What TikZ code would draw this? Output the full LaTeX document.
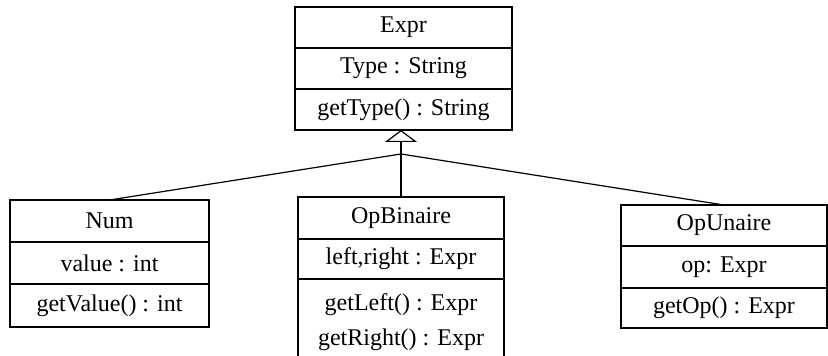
\documentclass[tikz,border=0pt]{standalone}
\usepackage{fontspec}
\setmainfont{Liberation Serif}
\usetikzlibrary{positioning,arrows.meta}

\begin{document}
\begin{tikzpicture}[x=0.75pt,y=0.75pt,yscale=-1,
  cls/.style={draw, line width=0.9pt, inner sep=0pt, outer sep=0pt, font=\fontsize{18}{21}\selectfont},
  txt/.style={inner sep=0pt, font=\fontsize{18}{21}\selectfont},
  inherit/.style={line width=0.9pt, -{Triangle[open, length=9pt, width=24pt]}},
  link/.style={line width=0.9pt}]
\useasboundingbox (0,0) rectangle (828,356);
\clip (0,0) rectangle (828,356);

%Class: Expr
\node [cls, minimum width=162.75pt, minimum height=30.75pt] (expr) at (403.5,27.5) {Expr};
\node [cls, minimum width=162.75pt, minimum height=30.75pt, below=0pt of expr] (exprAttr) {Type : String};
\node [cls, minimum width=162.75pt, minimum height=30.75pt, below=0pt of exprAttr] (exprMeth) {getType() : String};

%Class: Num
\node [cls, minimum width=149.25pt, minimum height=31.5pt] (num) at (109.5,221) {Num};
\node [cls, minimum width=149.25pt, minimum height=31.5pt, below=0pt of num] (numAttr) {value : int};
\node [cls, minimum width=149.25pt, minimum height=32.25pt, below=0pt of numAttr] (numMeth) {getValue() : int};

%Class: OpBinaire
\node [cls, minimum width=154.5pt, minimum height=31.5pt] (opb) at (401,218) {OpBinaire};
\node [cls, minimum width=154.5pt, minimum height=30pt, below=0pt of opb] (opbAttr) {left,right : Expr};
\node [cls, minimum width=154.5pt, minimum height=75pt, below=0pt of opbAttr] (opbMeth) {};
% Text Node
\node [txt] (opbLeft) at (401,305) {getLeft() : Expr};
% Text Node
\node [txt] (opbRight) at (401,340) {getRight() : Expr};

%Class: OpUnaire
\node [cls, minimum width=154.5pt, minimum height=30.75pt] (opu) at (724,225.5) {OpUnaire};
\node [cls, minimum width=154.5pt, minimum height=31.5pt, below=0pt of opu] (opuAttr) {op: Expr};
\node [cls, minimum width=154.5pt, minimum height=30pt, below=0pt of opuAttr] (opuMeth) {getOp() : Expr};

%Inheritance
\coordinate (tip) at (401,130);
\coordinate (branch) at (401,154);
\draw [inherit] (opb.north) -- (tip);
\draw [link] (num.north) -- (branch);
\draw [link] (opu.north) -- (branch);

\end{tikzpicture}
\end{document}
